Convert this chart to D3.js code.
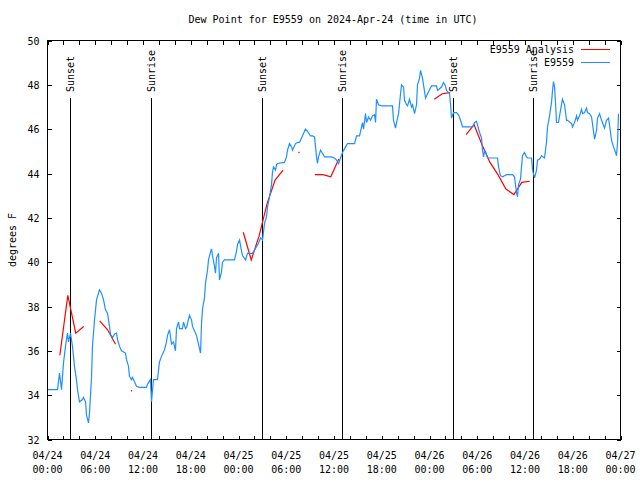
<!DOCTYPE html>
<html><head><meta charset="utf-8">
<script src="https://cdn.jsdelivr.net/npm/d3@7"></script>
<style>
body{margin:0;background:#fff}
svg text{font-family:"DejaVu Sans Mono","Liberation Mono",monospace;font-size:10px;fill:#000}
</style></head><body>
<svg id="c" width="640" height="480"></svg>
<script>
// ---- data (hours since 2024-04-24 00:00 UTC, degrees F) ----
const titleText = "Dew Point for E9559 on 2024-Apr-24 (time in UTC)";
const yLabel = "degrees F";
const seriesNames = ["E9559 Analysis", "E9559"];
const seriesColors = ["#ff0000", "#1e90ff"];
const yTicks = [32,34,36,38,40,42,44,46,48,50];
const xLabelHours = [0,6,12,18,24,30,36,42,48,54,60,66,72];
const sunsetHours = [2.8, 26.9, 50.9];
const sunriseHours = [13.0, 37.0, 61.05];

const analysisSeries = [
 [1.55,35.8],[2.55,38.5],[3.55,36.8],[4.55,37.1],null,
 [6.55,37.35],[7.55,36.95],[8.55,36.3],null,
 [10.55,34.2],null,
 [24.6,41.35],[25.6,40.1],[26.6,41.2],[27.6,42.65],[28.6,43.7],[29.6,44.15],null,
 [31.6,44.95],null,
 [33.6,43.95],[34.6,43.95],[35.6,43.85],[36.6,44.65],null,
 [48.6,47.35],[49.6,47.6],[50.6,47.65],null,
 [52.6,45.75],[53.6,46.2],[54.6,45.3],[55.6,44.5],[56.6,43.95],[57.6,43.3],[58.6,43.05],[59.6,43.6],[60.6,43.65]
];

const stationSeries = [
 [0,34.25],[1.26,34.25],[1.51,35.0],[1.76,34.25],[2.01,35.45],[2.26,36.2],[2.51,36.8],[2.64,36.4],[2.89,36.8],[3.14,36.2],
 [3.39,35.3],[3.64,34.7],[3.77,34.25],[4.02,33.7],[4.40,33.8],[4.52,33.9],[4.78,33.7],[4.90,33.1],[5.15,32.75],[5.28,33.2],
 [5.53,34.8],[5.65,36.2],[5.91,37.4],[6.16,38.3],[6.53,38.75],[6.79,38.6],[7.04,38.3],[7.29,37.85],[7.54,37.7],[7.67,37.4],
 [7.79,37.1],[7.92,36.75],[8.17,36.6],[8.42,36.75],[8.67,36.8],[8.80,36.5],[9.05,36.2],[9.30,36.0],[9.80,35.9],[9.93,35.6],
 [10.18,35.3],[10.30,34.85],[10.56,34.7],[10.68,34.8],[10.93,34.6],[11.18,34.4],[11.56,34.35],[12.44,34.35],[12.57,34.5],[12.94,34.7],
 [13.07,33.7],[13.32,34.7],[13.82,34.7],[14.07,35.5],[14.33,35.75],[14.70,36.05],[14.95,36.4],[15.08,36.7],[15.33,36.95],[15.58,36.3],
 [15.83,36.4],[16.08,36.0],[16.21,37.0],[16.46,37.3],[16.59,37.0],[16.96,37.0],[17.09,37.3],[17.34,37.0],[17.47,37.05],[17.84,37.6],
 [18.10,37.4],[18.22,37.1],[18.72,36.7],[18.97,36.3],[19.23,35.9],[19.35,37.2],[19.48,37.9],[19.73,38.4],[19.85,39.05],[20.11,39.65],
 [20.23,40.1],[20.48,40.45],[20.61,40.6],[20.73,40.3],[20.99,39.8],[21.11,39.5],[21.24,40.2],[21.49,40.4],[21.61,39.2],[21.86,39.55],
 [21.99,40.0],[22.24,40.1],[23.50,40.1],[23.75,40.5],[23.88,40.8],[24.13,41.0],[24.38,40.5],[24.50,40.3],[24.88,40.1],[25.13,40.4],
 [25.76,40.4],[26.01,40.55],[26.26,40.7],[26.51,40.85],[26.77,41.1],[27.02,41.0],[27.14,41.35],[27.27,41.75],[27.52,42.05],[27.65,42.5],
 [27.90,42.95],[28.15,43.5],[28.27,44.05],[28.40,44.3],[28.65,44.15],[28.78,44.4],[28.90,44.45],[29.78,44.5],[30.03,44.75],[30.16,45.05],
 [30.41,45.35],[30.66,45.2],[30.79,45.05],[31.16,45.35],[31.42,45.4],[31.67,45.4],[31.92,45.6],[32.17,45.8],[32.42,46.0],[32.67,45.9],
 [33.05,45.7],[33.30,45.7],[33.55,45.65],[33.68,45.2],[33.80,44.75],[33.93,44.45],[34.05,44.75],[34.31,45.05],[34.56,44.9],[34.81,44.75],
 [35.69,44.75],[36.06,44.7],[36.32,44.6],[36.57,44.45],[36.82,44.7],[37.07,44.95],[37.45,45.2],[37.70,45.35],[38.58,45.35],[38.83,45.7],
 [39.21,45.7],[39.46,46.1],[39.58,46.3],[39.71,46.0],[39.96,46.7],[40.09,46.3],[40.34,46.55],[40.59,46.4],[40.84,46.6],[41.09,46.65],
 [41.22,46.3],[41.34,47.35],[41.59,47.1],[41.97,47.05],[43.35,47.05],[43.48,46.4],[43.73,46.05],[43.86,46.3],[44.11,46.7],[44.36,47.6],
 [44.48,48.0],[44.74,47.9],[44.86,47.3],[45.11,47.1],[45.24,47.05],[45.49,47.35],[45.74,47.0],[45.87,47.1],[46.12,46.7],[46.37,47.1],
 [46.49,48.0],[46.75,48.3],[46.87,48.65],[47.12,48.3],[47.25,48.0],[47.50,47.4],[47.75,47.6],[48.25,47.95],[48.88,47.95],[49.01,47.75],
 [49.51,47.9],[49.76,48.1],[50.01,47.95],[50.14,47.75],[50.52,47.6],[50.64,47.15],[50.77,46.5],[51.02,46.75],[51.40,46.75],[51.65,46.65],
 [51.90,46.4],[52.15,46.1],[53.41,46.1],[53.66,46.3],[53.91,46.35],[54.03,46.2],[54.29,45.85],[54.54,45.6],[54.66,45.05],[54.79,44.75],
 [54.91,45.0],[55.04,45.0],[55.29,44.7],[55.54,44.7],[56.55,44.7],[56.67,44.3],[56.92,43.9],[57.18,43.85],[57.43,43.9],[57.68,43.95],
 [58.43,43.95],[58.68,43.85],[58.93,43.15],[59.06,42.95],[59.19,43.5],[59.44,43.75],[59.56,44.3],[59.69,44.8],[59.94,44.95],[60.19,44.75],
 [60.32,44.7],[60.82,44.7],[60.95,44.15],[61.20,43.8],[61.45,44.15],[61.57,44.6],[61.83,44.65],[62.08,44.8],[62.45,44.7],[62.70,45.4],
 [62.83,46.1],[63.08,46.6],[63.33,47.2],[63.46,47.75],[63.58,48.15],[63.71,47.9],[63.84,47.15],[63.96,46.3],[64.21,46.3],[64.46,46.85],
 [64.71,47.35],[64.97,47.1],[65.22,46.4],[65.34,46.4],[65.85,46.25],[65.97,46.1],[66.22,46.3],[66.48,46.6],[66.60,46.4],[66.85,46.6],
 [67.10,46.9],[67.23,46.7],[67.48,46.75],[67.73,46.95],[67.86,46.75],[68.11,46.7],[68.36,46.55],[68.48,46.25],[68.74,45.55],[68.99,45.95],
 [69.11,46.5],[69.37,46.7],[69.62,46.4],[69.99,46.05],[70.24,46.4],[70.50,46.5],[70.75,45.85],[70.87,45.5],[71.12,45.2],[71.38,44.95],
 [71.50,44.8],[71.63,45.4],[71.75,46.7]
];

// ---- drawing ----
const svg = d3.select("#c");
const t0 = Date.UTC(2024, 3, 24, 0, 0);
const toDate = h => new Date(t0 + h * 3600000);
const L = 47.5, R = 620.5, T = 40.5, B = 439.5;
const x = d3.scaleUtc().domain([toDate(0), toDate(72)]).range([L, R]);
const y = d3.scaleLinear().domain([32, 50]).range([B, T]);

// title
svg.append("text").attr("x", 333).attr("y", 23).attr("text-anchor", "middle").text(titleText);
// y label
svg.append("text").attr("transform", "translate(16,240) rotate(-90)").attr("text-anchor", "middle").text(yLabel);

// axes ticks
const every2h = d3.utcHour.every(2);
const gB = svg.append("g").attr("transform", `translate(0,${B})`)
  .call(d3.axisBottom(x).ticks(every2h).tickSize(-4).tickFormat(""));
const gT = svg.append("g").attr("transform", `translate(0,${T})`)
  .call(d3.axisTop(x).ticks(every2h).tickSize(-4).tickFormat(""));
const gL = svg.append("g").attr("transform", `translate(${L},0)`)
  .call(d3.axisLeft(y).tickValues(yTicks).tickSize(-4).tickPadding(8).tickFormat(d3.format("d")));
const gR = svg.append("g").attr("transform", `translate(${R},0)`)
  .call(d3.axisRight(y).tickValues(yTicks).tickSize(-4).tickFormat(""));
[gB, gT, gL, gR].forEach(g => {
  g.select(".domain").remove();
  g.selectAll("line").attr("stroke", "#000").attr("shape-rendering", "crispEdges");
});
gL.selectAll("text").attr("dy", "0.35em");

// x labels (two lines)
const fDate = d3.utcFormat("%m/%d"), fTime = d3.utcFormat("%H:%M");
const xl = svg.append("g").selectAll("g").data(xLabelHours).join("g")
  .attr("transform", d => `translate(${x(toDate(d))},0)`);
xl.append("text").attr("y", 459).attr("text-anchor", "middle").text(d => fDate(toDate(d)));
xl.append("text").attr("y", 473).attr("text-anchor", "middle").text(d => fTime(toDate(d)));

// sunrise / sunset markers
const events = sunsetHours.map(h => ({h, name: "Sunset"}))
  .concat(sunriseHours.map(h => ({h, name: "Sunrise"})));
const ev = svg.append("g").selectAll("g").data(events).join("g");
ev.append("line")
  .attr("x1", d => Math.round(x(toDate(d.h))) + 0.5).attr("x2", d => Math.round(x(toDate(d.h))) + 0.5)
  .attr("y1", 98).attr("y2", B)
  .attr("stroke", "#000").attr("shape-rendering", "crispEdges");
ev.append("text")
  .attr("transform", d => `translate(${Math.round(x(toDate(d.h))) + 0.5},92) rotate(-90)`)
  .attr("dy", "0.35em").attr("text-anchor", "start").text(d => d.name);

// series
const line = d3.line().defined(d => d !== null)
  .x(d => x(toDate(d[0]))).y(d => y(d[1]));
svg.append("path").datum(analysisSeries).attr("d", line)
  .attr("fill", "none").attr("stroke", seriesColors[0]).attr("stroke-width", 1.2);
// isolated analysis points
const isolated = analysisSeries.filter((d, i, a) => d && !a[i - 1] && !a[i + 1]);
svg.append("g").selectAll("rect").data(isolated).join("rect")
  .attr("x", d => x(toDate(d[0])) - 0.6).attr("y", d => y(d[1]) - 0.6)
  .attr("width", 1.3).attr("height", 1.3).attr("fill", seriesColors[0]);

svg.append("path").datum(stationSeries).attr("d", line)
  .attr("fill", "none").attr("stroke", seriesColors[1]).attr("stroke-width", 1.2);

// frame
svg.append("rect").attr("x", L).attr("y", T).attr("width", R - L).attr("height", B - T)
  .attr("fill", "none").attr("stroke", "#000").attr("shape-rendering", "crispEdges");

// legend
const lg = svg.append("g").selectAll("g").data(seriesNames).join("g")
  .attr("transform", (d, i) => `translate(0,${49.5 + i * 12.5})`);
lg.append("text").attr("x", 574).attr("dy", "0.35em").attr("text-anchor", "end").text(d => d);
lg.append("line").attr("x1", 581).attr("x2", 610).attr("y1", 0).attr("y2", 0)
  .attr("stroke", (d, i) => seriesColors[i]).attr("shape-rendering", "crispEdges");
</script>
</body></html>
